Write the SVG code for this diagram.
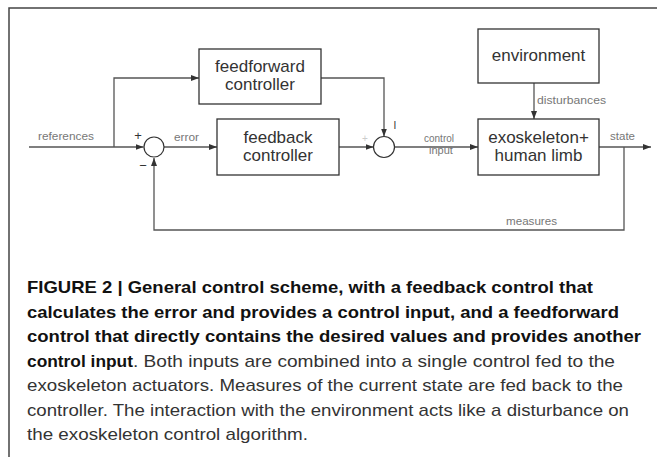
<svg xmlns="http://www.w3.org/2000/svg" width="657" height="457" viewBox="0 0 657 457">
<style>
.box{fill:#fff;stroke:#333;stroke-width:1.3}
.bt{font-family:"Liberation Sans",Arial,sans-serif;font-size:17px;fill:#333;text-anchor:middle}
.lbl{font-family:"Liberation Sans",Arial,sans-serif;font-size:11px;fill:#777}
.sgn{font-family:"Liberation Sans",Arial,sans-serif;font-size:13px;fill:#333;text-anchor:middle}
.ln{fill:none;stroke:#555;stroke-width:1.3}
.cap{font-family:"Liberation Sans",Arial,sans-serif;font-size:17px;fill:#333}
.capb{font-family:"Liberation Sans",Arial,sans-serif;font-size:17px;font-weight:bold;fill:#111}
</style>
<defs>
<marker id="ah" markerUnits="userSpaceOnUse" markerWidth="9" markerHeight="7" refX="8" refY="3" orient="auto">
<path d="M0,0 L8,3 L0,6 z" fill="#333"/>
</marker>
</defs>
<rect width="657" height="457" fill="#fff"/>
<path d="M9,457 V8 H657" fill="none" stroke="#444" stroke-width="1.5"/>

<g id="connectors">
<path class="ln" d="M29,147 H143.5" marker-end="url(#ah)"/>
<path class="ln" d="M114,147 V78 H199" marker-end="url(#ah)"/>
<path class="ln" d="M164,147 H217" marker-end="url(#ah)"/>
<path class="ln" d="M339,147 H373.5" marker-end="url(#ah)"/>
<path class="ln" d="M321,78 H384 V136.5" marker-end="url(#ah)"/>
<path class="ln" d="M394.5,147 H478" marker-end="url(#ah)"/>
<path class="ln" d="M534,83 V119" marker-end="url(#ah)"/>
<path class="ln" d="M599,147 H651" marker-end="url(#ah)"/>
<path class="ln" d="M624,147 V230 H154 V158" marker-end="url(#ah)"/>
<text class="lbl" x="38" y="140" textLength="56" lengthAdjust="spacingAndGlyphs">references</text>
<text class="lbl" x="174" y="141" textLength="25" lengthAdjust="spacingAndGlyphs">error</text>
<text class="lbl" x="424" y="142" textLength="30" lengthAdjust="spacingAndGlyphs">control</text>
<text class="lbl" x="429" y="154">input</text>
<text class="lbl" x="537" y="104" textLength="69" lengthAdjust="spacingAndGlyphs">disturbances</text>
<text class="lbl" x="610" y="140" textLength="25" lengthAdjust="spacingAndGlyphs">state</text>
<text class="lbl" x="506" y="225" textLength="51" lengthAdjust="spacingAndGlyphs">measures</text>
</g>

<g id="sum1">
<circle cx="154" cy="147" r="10" fill="#fff" stroke="#333" stroke-width="1.2"/>
<text class="sgn" x="138" y="140">+</text>
<text class="sgn" x="143" y="170">−</text>
</g>

<g id="sum2">
<circle cx="384" cy="147" r="10.5" fill="#fff" stroke="#333" stroke-width="1.2"/>
<text class="sgn" x="365" y="142" style="fill:#ccc;font-size:10px">+</text>
<text class="sgn" x="395" y="129" style="font-size:10px">I</text>
</g>

<g id="feedforward">
<rect class="box" x="199" y="49" width="122" height="55"/>
<text class="bt" x="260" y="72">feedforward</text>
<text class="bt" x="260" y="90">controller</text>
</g>

<g id="feedback">
<rect class="box" x="217" y="119" width="122" height="56"/>
<text class="bt" x="278" y="142.5">feedback</text>
<text class="bt" x="278" y="160.5">controller</text>
</g>

<g id="environment">
<rect class="box" x="478" y="29" width="121" height="54"/>
<text class="bt" x="538.5" y="61">environment</text>
</g>

<g id="exoskeleton">
<rect class="box" x="478" y="119" width="121" height="56"/>
<text class="bt" x="538.5" y="142.5">exoskeleton+</text>
<text class="bt" x="538.5" y="160.5">human limb</text>
</g>

<g id="caption">
<text class="capb" x="27" y="293" textLength="566" lengthAdjust="spacingAndGlyphs">FIGURE 2 | General control scheme, with a feedback control that</text>
<text class="capb" x="27" y="317.5" textLength="592" lengthAdjust="spacingAndGlyphs">calculates the error and provides a control input, and a feedforward</text>
<text class="capb" x="27" y="342" textLength="614" lengthAdjust="spacingAndGlyphs">control that directly contains the desired values and provides another</text>
<text class="capb" x="27" y="366.5" textLength="106" lengthAdjust="spacingAndGlyphs">control input</text>
<text class="cap" x="133" y="366.5" textLength="482" lengthAdjust="spacingAndGlyphs">. Both inputs are combined into a single control fed to the</text>
<text class="cap" x="27" y="391" textLength="596" lengthAdjust="spacingAndGlyphs">exoskeleton actuators. Measures of the current state are fed back to the</text>
<text class="cap" x="27" y="415.5" textLength="602" lengthAdjust="spacingAndGlyphs">controller. The interaction with the environment acts like a disturbance on</text>
<text class="cap" x="27" y="440" textLength="281" lengthAdjust="spacingAndGlyphs">the exoskeleton control algorithm.</text>
</g>
</svg>
